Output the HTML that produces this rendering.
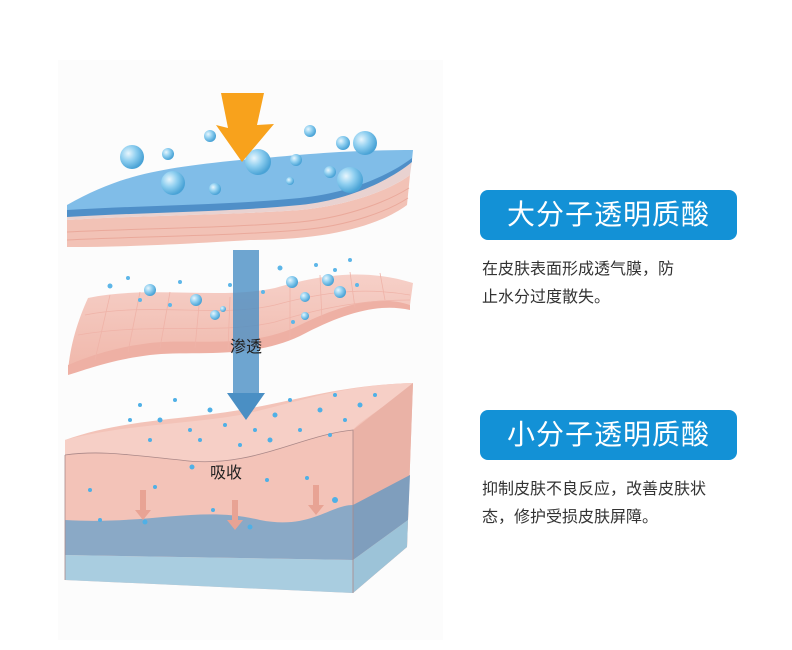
<!DOCTYPE html>
<html><head><meta charset="utf-8"><style>
body{margin:0;background:#fff;width:792px;height:650px;overflow:hidden;position:relative;font-family:"Liberation Sans","Noto Sans CJK SC",sans-serif}
.pill{position:absolute;left:480px;width:257px;height:50px;background:#1391d6;border-radius:8px;color:#fff;font-size:28px;line-height:50px;text-align:center;letter-spacing:1px}
.p{position:absolute;left:482px;font-size:16px;line-height:28px;color:#333;width:300px}
</style></head><body>
<svg width="792" height="650" style="position:absolute;left:0;top:0">
<defs>
<radialGradient id="b" cx="35%" cy="35%" r="65%"><stop offset="0" stop-color="#e8f6fd"/><stop offset=".5" stop-color="#8fcff0"/><stop offset="1" stop-color="#4aa3d6"/></radialGradient>
<linearGradient id="pk" x1="0" y1="0" x2="0" y2="1"><stop offset="0" stop-color="#f6d0c8"/><stop offset="1" stop-color="#f0b7aa"/></linearGradient>
</defs>
<rect x="58" y="60" width="385" height="580" fill="#fcfcfc"/>
<!-- bottom block -->
<path d="M65,440 C120,420 180,420 240,410 C300,400 340,385 413,383 L407,547 L353,593 L65,580 Z" fill="#f3c3b8"/>
<path d="M65,440 C120,425 180,425 240,415 C300,402 340,385 413,383 C390,405 360,420 353,430 C300,435 250,470 180,460 C130,455 100,450 65,455 Z" fill="#f6cfc6"/>
<path d="M353,430 L413,383 L407,547 L353,593 Z" fill="#eab2a6"/>
<path d="M65,520 C150,525 200,505 260,520 C310,530 330,505 353,505 L353,560 L65,555 Z" fill="#8aa9c6"/>
<path d="M353,505 L410,475 L408,520 L353,560 Z" fill="#7f9ebd"/>
<path d="M65,555 L353,560 L353,593 L65,580 Z" fill="#a9cde0"/>
<path d="M353,560 L408,520 L407,547 L353,593 Z" fill="#9cc3d8"/>
<path d="M65,455 C100,450 130,455 180,460 C250,470 300,435 353,430 L353,593 M65,455 L65,580" fill="none" stroke="#a88" stroke-width=".8"/>
<g fill="#e8a394"><path d="M140,490 l0,20 l-5,0 l8,10 l8,-10 l-5,0 l0,-20z"/><path d="M232,500 l0,20 l-5,0 l8,10 l8,-10 l-5,0 l0,-20z"/><path d="M313,485 l0,20 l-5,0 l8,10 l8,-10 l-5,0 l0,-20z"/></g>
<g fill="#4fb0e6">
<circle cx="140" cy="405" r="2"/><circle cx="160" cy="420" r="2.5"/><circle cx="175" cy="400" r="2"/><circle cx="190" cy="430" r="2"/><circle cx="210" cy="410" r="2.5"/><circle cx="225" cy="425" r="2"/><circle cx="255" cy="430" r="2"/><circle cx="275" cy="415" r="2.5"/><circle cx="290" cy="400" r="2"/><circle cx="300" cy="430" r="2"/><circle cx="320" cy="410" r="2.5"/><circle cx="335" cy="395" r="2"/><circle cx="345" cy="420" r="2"/><circle cx="360" cy="405" r="2.5"/><circle cx="375" cy="395" r="2"/><circle cx="200" cy="440" r="2"/><circle cx="240" cy="445" r="2"/><circle cx="270" cy="440" r="2.5"/><circle cx="150" cy="440" r="2"/><circle cx="130" cy="420" r="2"/><circle cx="330" cy="435" r="2"/><circle cx="90" cy="490" r="2"/><circle cx="155" cy="487" r="2"/><circle cx="192" cy="467" r="2.5"/><circle cx="267" cy="480" r="2"/><circle cx="307" cy="478" r="2"/><circle cx="335" cy="500" r="3"/><circle cx="213" cy="510" r="2"/><circle cx="145" cy="522" r="2.5"/><circle cx="250" cy="527" r="2.5"/><circle cx="100" cy="520" r="2"/>
</g>
<!-- middle sheet -->
<path d="M88,298 C150,285 220,300 275,288 C330,272 370,270 413,283 L410,305 C380,300 345,310 300,332 C250,356 190,345 150,350 C110,355 85,365 68,372 C70,345 78,320 88,298 Z" fill="url(#pk)"/>
<path d="M68,365 C85,358 110,348 150,343 C190,338 250,350 300,325 C345,303 380,295 410,305 L410,310 C380,303 345,312 300,336 C250,360 190,350 150,355 C110,360 85,370 68,375Z" fill="#eeb0a4"/>
<g stroke="#efb3a8" stroke-width=".8" fill="none">
<path d="M85,315 C150,302 220,318 275,305 C330,290 370,288 410,295"/><path d="M78,335 C150,322 220,335 275,322 C330,305 370,300 410,300"/>
<path d="M110,295 L95,360"/><path d="M140,292 L128,352"/><path d="M170,292 L160,348"/><path d="M200,295 L195,348"/><path d="M230,297 L228,350"/><path d="M290,283 L290,340"/><path d="M320,275 L322,320"/><path d="M350,272 L355,308"/><path d="M380,273 L385,300"/></g>
<g fill="url(#b)"><circle cx="150" cy="290" r="6"/><circle cx="196" cy="300" r="6"/><circle cx="215" cy="315" r="5"/><circle cx="292" cy="282" r="6"/><circle cx="305" cy="297" r="5"/><circle cx="328" cy="280" r="6"/><circle cx="340" cy="292" r="6"/><circle cx="305" cy="316" r="4"/><circle cx="223" cy="309" r="3"/></g>
<g fill="#5db6e8"><circle cx="110" cy="286" r="2.5"/><circle cx="128" cy="278" r="2"/><circle cx="140" cy="300" r="2"/><circle cx="180" cy="282" r="2"/><circle cx="230" cy="285" r="2"/><circle cx="263" cy="292" r="2"/><circle cx="280" cy="268" r="2.5"/><circle cx="316" cy="265" r="2"/><circle cx="335" cy="270" r="2"/><circle cx="357" cy="285" r="2"/><circle cx="350" cy="260" r="2"/><circle cx="293" cy="322" r="2"/><circle cx="170" cy="305" r="2"/></g>
<rect x="233" y="250" width="26" height="145" fill="#4a8fc4" opacity=".8"/>
<path d="M227,393 L265,393 L246,420 Z" fill="#4a8fc4"/>
<!-- top slab -->
<path d="M67,220 C150,215 230,215 300,210 C350,205 390,190 410,175 L407,205 C380,225 330,240 250,240 C170,245 120,247 67,247 Z" fill="#f2c2b6"/>
<g stroke="#eaa99b" stroke-width="1" fill="none"><path d="M67,232 C150,228 230,228 300,222 C350,217 390,200 409,188"/><path d="M67,240 C150,236 230,236 300,230 C350,226 390,210 408,198"/></g>
<path d="M67,212 C150,210 230,210 300,203 C350,198 390,180 412,160 L410,175 C390,190 350,205 300,210 C230,215 150,215 67,220 Z" fill="#e9d2d0"/>
<path d="M67,205 C120,175 160,168 240,160 C300,155 340,150 413,150 L412,160 C380,185 340,198 300,203 C230,210 150,208 67,215 Z" fill="#80bde8"/>
<path d="M67,210 C150,205 230,205 300,198 C350,193 390,175 412,158 L412,162 C390,180 350,200 300,205 C230,212 150,212 67,217 Z" fill="#4f8fc8"/>
<g fill="url(#b)"><circle cx="132" cy="157" r="12"/><circle cx="168" cy="154" r="6"/><circle cx="173" cy="183" r="12"/><circle cx="215" cy="189" r="6"/><circle cx="210" cy="136" r="6"/><circle cx="258" cy="162" r="13"/><circle cx="296" cy="160" r="6"/><circle cx="310" cy="131" r="6"/><circle cx="330" cy="172" r="6"/><circle cx="343" cy="143" r="7"/><circle cx="365" cy="143" r="12"/><circle cx="350" cy="180" r="13"/><circle cx="290" cy="181" r="4"/></g>
<path d="M221,93 L264,93 L257,125 L274,124 L242,162 L216,125 L228,128 Z" fill="#f8a21c"/>
<text x="230" y="352" font-size="16" fill="#222">渗透</text>
<text x="210" y="478" font-size="16" fill="#222">吸收</text>
</svg>
<div class="pill" style="top:190px">大分子透明质酸</div>
<div class="p" style="top:256px">在皮肤表面形成透气膜，防<br>止水分过度散失。</div>
<div class="pill" style="top:410px">小分子透明质酸</div>
<div class="p" style="top:476px">抑制皮肤不良反应，改善皮肤状<br>态，修护受损皮肤屏障。</div>
</body></html>
